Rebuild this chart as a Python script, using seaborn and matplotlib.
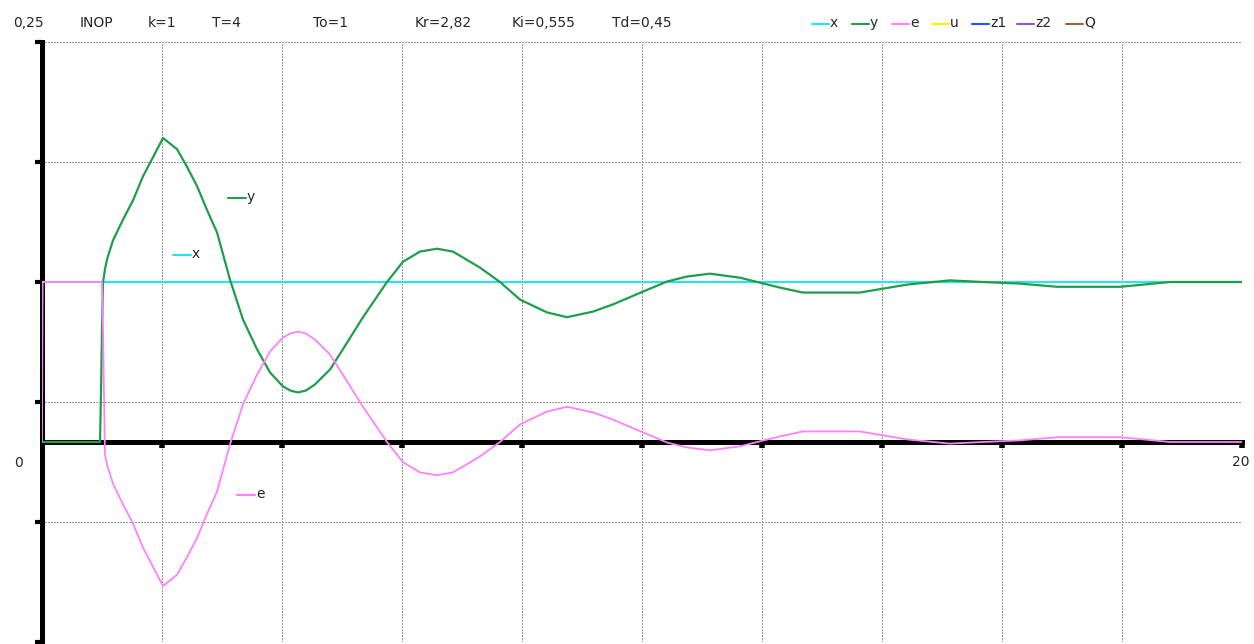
import matplotlib
matplotlib.use("Agg")
import matplotlib.pyplot as plt
from matplotlib.lines import Line2D
import seaborn as sns
import pandas as pd

# Simulation parameters shown in the header
header_items = ["INOP", "k=1", "T=4", "To=1", "Kr=2,82", "Ki=0,555", "Td=0,45"]
header_x_px = [80, 148, 212, 313, 415, 512, 612]

# Legend entries of the header
legend_names = ["x", "y", "e", "u", "z1", "z2", "Q"]
legend_colors = ["#22E6F2", "#1F9E4A", "#FF80FF", "#FFF200", "#2255FF", "#8855DD", "#A0643C"]
legend_x_px = [812, 852, 892, 932, 972, 1017, 1066]

# Set point x
t_x = [0.0, 20.0]
x_vals = [0.1, 0.1]

# Process output y
t_y = [0.0, 0.967, 0.983, 1.0, 1.017, 1.05, 1.083, 1.183, 1.35, 1.517, 1.683, 1.85,
       2.017, 2.25, 2.417, 2.583, 2.75, 2.917, 3.133, 3.35, 3.583, 3.8, 4.017, 4.15, 4.267,
       4.4, 4.55, 4.8, 5.083, 5.35, 5.75, 6.017, 6.3, 6.583, 6.85, 7.3, 7.633, 7.967,
       8.417, 8.75, 9.183, 9.517, 10.017, 10.417, 10.75, 11.13, 11.63, 11.92, 12.3,
       12.68, 13.63, 14.42, 15.13, 15.68, 16.3, 16.92, 17.97, 18.8, 20.0]
y_vals = [0.0, 0.0, 0.03, 0.07, 0.1, 0.108, 0.114, 0.126, 0.139, 0.151, 0.166, 0.178,
          0.190, 0.183, 0.172, 0.160, 0.145, 0.131, 0.1015, 0.0765, 0.058, 0.0435, 0.0347, 0.032, 0.031,
          0.0322, 0.036, 0.0453, 0.062, 0.078, 0.1, 0.1127, 0.119, 0.1208, 0.119, 0.109, 0.1, 0.089,
          0.081, 0.078, 0.0815, 0.086, 0.094, 0.1003, 0.1034, 0.1052, 0.1027, 0.1, 0.0965,
          0.0934, 0.0934, 0.0984, 0.101, 0.1, 0.099, 0.097, 0.097, 0.1, 0.1]

# Control error e
t_e = [0.0, 0.01, 1.0, 1.017, 1.033, 1.05, 1.083, 1.183, 1.35, 1.517, 1.683, 1.85,
       2.017, 2.25, 2.417, 2.583, 2.75, 2.917, 3.133, 3.35, 3.583, 3.8, 4.017, 4.15, 4.267,
       4.4, 4.55, 4.8, 5.083, 5.35, 5.75, 6.017, 6.3, 6.583, 6.85, 7.3, 7.633, 7.967,
       8.417, 8.75, 9.183, 9.517, 10.017, 10.417, 10.75, 11.13, 11.63, 11.92, 12.3,
       12.68, 13.63, 14.42, 15.13, 15.68, 16.3, 16.92, 17.97, 18.8, 20.0]
e_vals = [0.0, 0.1, 0.1, 0.07, 0.03, -0.008, -0.014, -0.026, -0.039, -0.051, -0.066, -0.078,
          -0.090, -0.083, -0.072, -0.060, -0.045, -0.031, -0.0015, 0.0235, 0.042, 0.0565, 0.0653, 0.068, 0.069,
          0.0678, 0.064, 0.0547, 0.038, 0.022, 0.0, -0.0127, -0.019, -0.0208, -0.019, -0.009, 0.0, 0.011,
          0.019, 0.022, 0.0185, 0.014, 0.006, -0.0003, -0.0034, -0.0052, -0.0027, 0.0, 0.0035,
          0.0066, 0.0066, 0.0016, -0.001, 0.0, 0.001, 0.003, 0.003, 0.0, 0.0]

x_grid = [2, 4, 6, 8, 10, 12, 14, 16, 18, 20]
y_grid = [-0.125, -0.05, 0.025, 0.1, 0.175, 0.25]

sns.set_style("white")
plt.rcParams["font.family"] = ["DejaVu Sans"]

W, H = 1254, 644
fig = plt.figure(figsize=(W / 100, H / 100), dpi=100)
fig.patch.set_facecolor("white")

def fx(px):
    return px / W

def fy(py):
    return 1 - py / H

ax = fig.add_axes([fx(42), fy(642), fx(1242) - fx(42), fy(42) - fy(642)])
ax.set_facecolor("white")
ax.set_xlim(0, 20)
ax.set_ylim(-0.125, 0.25)

# dotted grid, one pixel on / one pixel off
ax.set_xticks(x_grid)
ax.set_yticks(y_grid)
ax.grid(True, color="#9a9a9a", linestyle=(0, (1.0, 1.0)), linewidth=1.0,
        antialiased=False)
ax.set_axisbelow(True)

# thick axes: vertical at t=0, horizontal at value 0
for s in ["top", "right"]:
    ax.spines[s].set_visible(False)
ax.spines["left"].set_linewidth(3.6)
ax.spines["left"].set_color("black")
ax.spines["bottom"].set_position(("data", 0))
ax.spines["bottom"].set_linewidth(3.6)
ax.spines["bottom"].set_color("black")
ax.tick_params(axis="y", direction="out", length=5, width=3, color="black",
               labelleft=False, left=True)
ax.tick_params(axis="x", direction="out", length=4, width=4, color="black",
               labelbottom=False, bottom=True)

df_x = pd.DataFrame({"t": t_x, "v": x_vals})
df_y = pd.DataFrame({"t": t_y, "v": y_vals})
df_e = pd.DataFrame({"t": t_e, "v": e_vals})
sns.lineplot(data=df_x, x="t", y="v", ax=ax, color=legend_colors[0], linewidth=1.5,
             estimator=None, sort=False, zorder=3)
sns.lineplot(data=df_y, x="t", y="v", ax=ax, color=legend_colors[1], linewidth=1.6,
             estimator=None, sort=False, zorder=4)
sns.lineplot(data=df_e, x="t", y="v", ax=ax, color=legend_colors[2], linewidth=1.3,
             estimator=None, sort=False, zorder=5)
ax.set_xlabel("")
ax.set_ylabel("")

# axis value labels
fs = 10
fig.text(fx(13), fy(23), "0,25", fontsize=fs, va="center", ha="left")
fig.text(fx(14), fy(463), "0", fontsize=fs, va="center", ha="left")
fig.text(fx(1232), fy(462), "20", fontsize=fs, va="center", ha="left")

# header
for label, px in zip(header_items, header_x_px):
    fig.text(fx(px), fy(23), label, fontsize=fs, va="center", ha="left")

# header legend
for name, col, px in zip(legend_names, legend_colors, legend_x_px):
    fig.add_artist(Line2D([fx(px), fx(px + 17)], [fy(24), fy(24)], color=col,
                          linewidth=1.5, transform=fig.transFigure))
    fig.text(fx(px + 18), fy(23), name, fontsize=fs, va="center", ha="left")

# curve labels inside the plot
curve_labels = [("y", legend_colors[1], 228, 198),
                ("x", legend_colors[0], 173, 255),
                ("e", legend_colors[2], 237, 495)]
for name, col, px, py in curve_labels:
    fig.add_artist(Line2D([fx(px), fx(px + 18)], [fy(py), fy(py)], color=col,
                          linewidth=1.5, transform=fig.transFigure))
    fig.text(fx(px + 19), fy(py - 1), name, fontsize=fs, va="center", ha="left")

fig.savefig("out.png", dpi=100, facecolor="white")
